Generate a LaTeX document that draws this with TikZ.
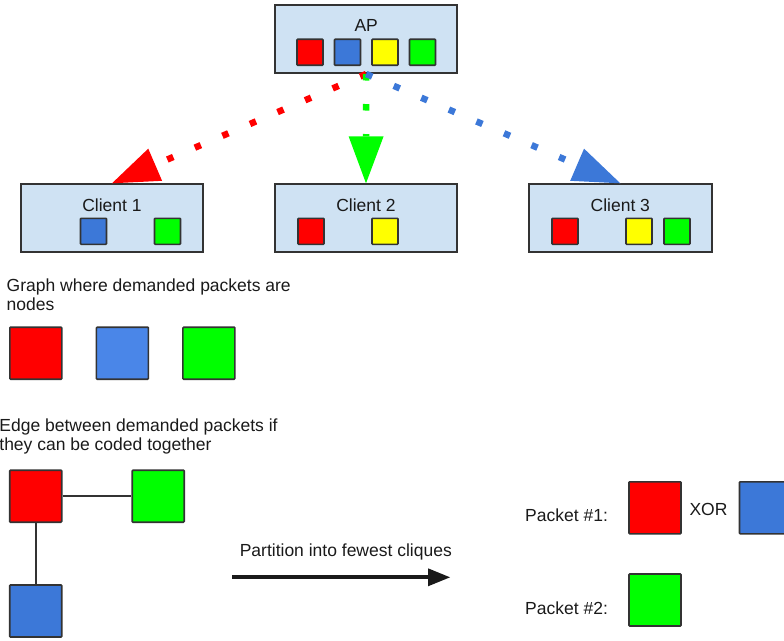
\documentclass[tikz,border=0pt]{standalone}
\usepackage{fontspec}
\setmainfont{Liberation Sans}
\usetikzlibrary{arrows.meta}

\definecolor{boxfill}{HTML}{CFE2F3}
\definecolor{boxline}{HTML}{333333}
\definecolor{pkred}{HTML}{FF0000}
\definecolor{pkblue}{HTML}{3C78D8}
\definecolor{pkbluelight}{HTML}{4A86E8}
\definecolor{pkgreen}{HTML}{00FF00}
\definecolor{pkyellow}{HTML}{FFFF00}
\definecolor{txt}{HTML}{1A1A1A}

\tikzset{
  station/.style={draw=boxline, line width=2pt, fill=boxfill,
    minimum width=182.5pt, minimum height=68pt, inner sep=0pt},
  pkt/.style={draw=boxline, line width=1.6pt, fill=#1,
    minimum size=26pt, inner sep=0pt, rounded corners=0.8pt},
  bigpkt/.style={draw=boxline, line width=1.6pt, fill=#1,
    minimum size=52pt, inner sep=0pt, rounded corners=0.8pt},
  lbl/.style={inner sep=0pt, text=txt, font=\fontsize{17.5}{18.5}\selectfont},
  send/.style={draw=#1, line width=6.5pt, dash pattern=on 6.5pt off 23.5pt,
    -{Triangle[length=47pt,width=35pt,line width=0pt,fill=#1]}},
  graphedge/.style={draw=boxline, line width=1.6pt},
}

\begin{document}
\begin{tikzpicture}[x=1pt,y=-1pt]
\useasboundingbox (0,0) rectangle (784,640);
\clip (0,0) rectangle (784,640);

% access point and its queue
\node[station] (ap) at (366.2,39) {};
\node[lbl, anchor=base] (aplbl) at (366.2,31.7) {AP};
\node[pkt=pkred]    (apr) at (310,52.2) {};
\node[pkt=pkblue]   (apb) at (347.5,52.2) {};
\node[pkt=pkyellow] (apy) at (385,52.2) {};
\node[pkt=pkgreen]  (apg) at (422.5,52.2) {};

% clients and the packets they already hold
\node[station] (c1) at (112,218.3) {};
\node[lbl, anchor=base] (c1lbl) at (112,211) {Client 1};
\node[pkt=pkblue]  (c1b) at (93.5,231.3) {};
\node[pkt=pkgreen] (c1g) at (167.5,231.3) {};

\node[station] (c2) at (366,218.3) {};
\node[lbl, anchor=base] (c2lbl) at (366,211) {Client 2};
\node[pkt=pkred]    (c2r) at (311,231.3) {};
\node[pkt=pkyellow] (c2y) at (385,231.3) {};

\node[station] (c3) at (620.3,218.3) {};
\node[lbl, anchor=base] (c3lbl) at (620.3,211) {Client 3};
\node[pkt=pkred]    (c3r) at (565,231.3) {};
\node[pkt=pkyellow] (c3y) at (639,231.3) {};
\node[pkt=pkgreen]  (c3g) at (677,231.3) {};

% demanded packets sent from the AP
\draw[send=pkred]   (ap.south) -- (c1.north);
\draw[send=pkgreen] (ap.south) -- (c2.north);
\draw[send=pkblue]  (ap.south) -- (c3.north);

% graph of demanded packets
\node[lbl, anchor=base west] (g1) at (6.5,291.7) {Graph where demanded packets are};
\node[lbl, anchor=base west] (g2) at (6.5,310) {nodes};
\node[bigpkt=pkred]       (gr) at (35.8,353.2) {};
\node[bigpkt=pkbluelight] (gb) at (122.4,353.2) {};
\node[bigpkt=pkgreen]     (gg) at (208.9,353.2) {};

% graph with coding edges
\node[lbl, anchor=base west] (e1) at (-0.8,431.7) {Edge between demanded packets if};
\node[lbl, anchor=base west] (e2) at (-0.8,450) {they can be coded together};
\node[bigpkt=pkred]   (er) at (35.7,496.2) {};
\node[bigpkt=pkgreen] (eg) at (158.2,496.2) {};
\node[bigpkt=pkblue]  (eb) at (35.7,611) {};
\draw[graphedge] (er.east) -- (eg.west);
\draw[graphedge] (er.south) -- (eb.north);

% partition step
\coordinate (pa) at (232.3,577.3);
\coordinate (pb) at (450,577.3);
\draw[line width=4pt, txt, -{Triangle[length=22pt,width=18pt,line width=0pt]}] (pa) -- (pb);
\node[lbl, anchor=base] (plbl) at (345.8,556) {Partition into fewest cliques};

% resulting coded packets
\node[lbl, anchor=base west] (p1) at (525,521.5) {Packet \#1:};
\node[bigpkt=pkred]  (p1r) at (655,507.8) {};
\node[lbl, anchor=base] (xor) at (708.5,515.5) {XOR};
\node[bigpkt=pkblue] (p1b) at (765.5,507.8) {};
\node[lbl, anchor=base west] (p2) at (525,614) {Packet \#2:};
\node[bigpkt=pkgreen] (p2g) at (655,600) {};
\end{tikzpicture}
\end{document}
